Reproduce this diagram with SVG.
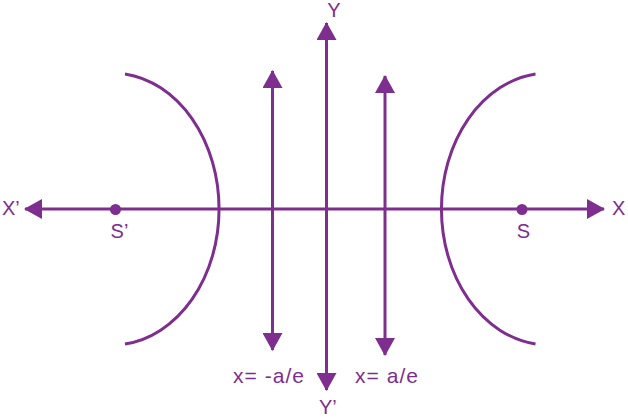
<svg xmlns="http://www.w3.org/2000/svg" width="628" height="418" viewBox="0 0 628 418">
<style>
.ln{stroke:#7d2e8e;stroke-width:3;fill:none}
.t{font-family:"Liberation Sans",Arial,sans-serif;font-size:20px;fill:#7d2e8e}
.d{font-family:"Liberation Sans",Arial,sans-serif;font-size:21px;fill:#7d2e8e}
.dot{fill:#7d2e8e}
</style>
<defs>
<marker id="ah" markerUnits="userSpaceOnUse" markerWidth="18" markerHeight="20" refX="17" refY="10" orient="auto-start-reverse">
<path d="M0,0 L18,10 L0,20 Z" fill="#7d2e8e"/>
</marker>
</defs>
<rect width="628" height="418" fill="#ffffff"/>
<g id="connectors">
<line id="x-axis" class="ln" x1="25" y1="209" x2="604" y2="209" marker-start="url(#ah)" marker-end="url(#ah)"/>
<line id="y-axis" class="ln" x1="326.5" y1="23" x2="326.5" y2="390" marker-start="url(#ah)" marker-end="url(#ah)"/>
<line id="dir-left" class="ln" x1="272.5" y1="71" x2="272.5" y2="350" marker-start="url(#ah)" marker-end="url(#ah)"/>
<line id="dir-right" class="ln" x1="385" y1="76" x2="385" y2="355" marker-start="url(#ah)" marker-end="url(#ah)"/>
</g>
<g id="branch-left"><path class="ln" d="M125,74 A107,136 0 0 1 125,344"/></g>
<g id="branch-right"><path class="ln" d="M535.5,74 A107,136 0 0 0 535.5,344"/></g>
<g id="focus-left"><circle class="dot" cx="115.5" cy="209.5" r="5.5"/><text class="t" x="119.5" y="238" text-anchor="middle">S’</text></g>
<g id="focus-right"><circle class="dot" cx="522" cy="209.5" r="5.5"/><text class="t" x="523.5" y="238" text-anchor="middle">S</text></g>
<g id="label-x"><text class="t" x="612" y="215">X</text></g>
<g id="label-x2"><text class="t" x="2" y="215">X’</text></g>
<g id="label-y"><text class="t" x="334" y="17" text-anchor="middle">Y</text></g>
<g id="label-y2"><text class="t" x="319" y="414">Y’</text></g>
<g id="label-dl"><text class="d" x="233" y="383" textLength="71" lengthAdjust="spacing">x= -a/e</text></g>
<g id="label-dr"><text class="d" x="355" y="383" textLength="63" lengthAdjust="spacing">x= a/e</text></g>
</svg>
